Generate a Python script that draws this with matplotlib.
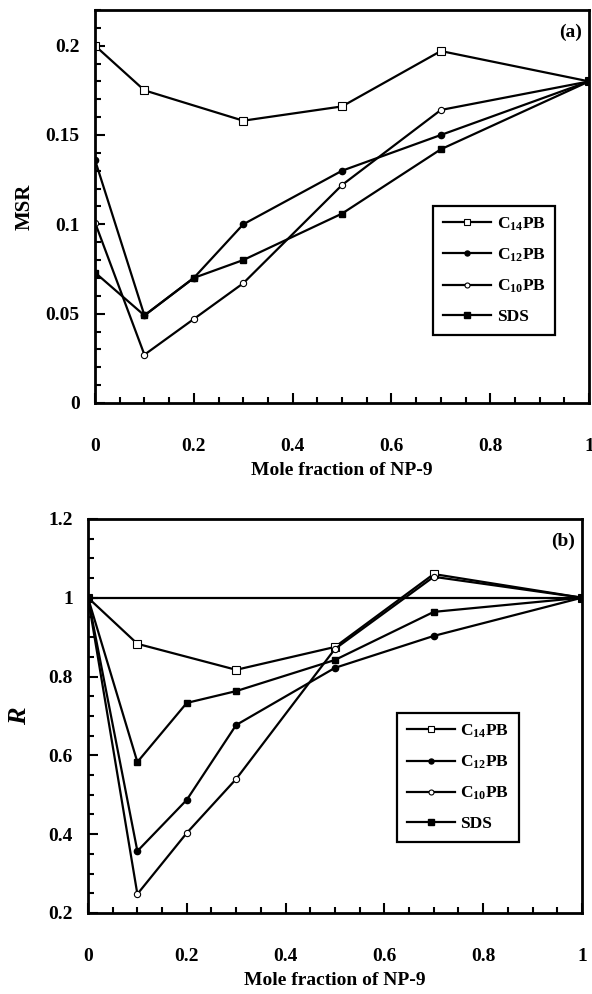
import matplotlib
matplotlib.use("Agg")
import matplotlib.pyplot as plt
from matplotlib.ticker import MultipleLocator

plt.rcParams["font.family"] = ["Liberation Serif", "DejaVu Serif"]
plt.rcParams["font.weight"] = "bold"
plt.rcParams["mathtext.fontset"] = "custom"
plt.rcParams["mathtext.rm"] = "Liberation Serif:bold"
plt.rcParams["mathtext.it"] = "Liberation Serif:bold:italic"
plt.rcParams["mathtext.bf"] = "Liberation Serif:bold"

# data
x_c14 = [0, 0.1, 0.3, 0.5, 0.7, 1]
x_all = [0, 0.1, 0.2, 0.3, 0.5, 0.7, 1]
labels = [r"C$_{14}$PB", r"C$_{12}$PB", r"C$_{10}$PB", "SDS"]

msr_c14 = [0.200, 0.175, 0.158, 0.166, 0.197, 0.180]
msr_c12 = [0.136, 0.049, 0.070, 0.100, 0.130, 0.150, 0.180]
msr_c10 = [0.101, 0.027, 0.047, 0.067, 0.122, 0.164, 0.180]
msr_sds = [0.073, 0.049, 0.070, 0.080, 0.106, 0.142, 0.180]

r_c14 = [1.0, 0.883, 0.817, 0.875, 1.060, 1.0]
r_c12 = [1.0, 0.357, 0.487, 0.677, 0.822, 0.903, 1.0]
r_c10 = [1.0, 0.248, 0.403, 0.540, 0.870, 1.053, 1.0]
r_sds = [1.0, 0.583, 0.733, 0.763, 0.842, 0.964, 1.0]

fig = plt.figure(figsize=(5.92, 9.94), dpi=100)
ax1 = fig.add_axes([0.1605, 0.5946, 0.8345, 0.3954])
ax2 = fig.add_axes([0.1486, 0.0815, 0.8344, 0.3965])

styles = [
    dict(marker="s", mfc="white", mec="black", ms=5.5, mew=0.8),
    dict(marker="o", mfc="black", mec="black", ms=4.5),
    dict(marker="o", mfc="white", mec="black", ms=4.5, mew=0.8),
    dict(marker="s", mfc="black", mec="black", ms=5),
]


def draw(ax, series, xs):
    for x, y, lab, st in zip(xs, series, labels, styles):
        ax.plot(x, y, "-", color="black", lw=1.6, label=lab, **st)


def style(ax, ymin, ymax, ymaj, ymin_step, tag, legpos):
    ax.set_xlim(0, 1)
    ax.set_ylim(ymin, ymax)
    ax.xaxis.set_major_locator(MultipleLocator(0.2))
    ax.xaxis.set_minor_locator(MultipleLocator(0.05))
    ax.yaxis.set_major_locator(MultipleLocator(ymaj))
    ax.yaxis.set_minor_locator(MultipleLocator(ymin_step))
    ax.tick_params(which="both", direction="in", top=False, right=False,
                   width=1.5, labelsize=14)
    ax.tick_params(which="major", length=7)
    ax.tick_params(which="minor", length=4)
    ax.tick_params(axis="x", pad=25)
    ax.tick_params(axis="y", pad=11)
    ax.xaxis.set_major_formatter(plt.FuncFormatter(lambda v, p: "%g" % round(v, 3)))
    ax.yaxis.set_major_formatter(plt.FuncFormatter(lambda v, p: "%g" % round(v, 3)))
    for s in ax.spines.values():
        s.set_linewidth(2)
    ax.set_xlabel("Mole fraction of NP-9", fontsize=14, fontweight="bold", labelpad=5)
    ax.text(0.985, 0.965, tag, transform=ax.transAxes, ha="right", va="top",
            fontsize=14, fontweight="bold")
    leg = ax.legend(loc="upper left", bbox_to_anchor=legpos, fancybox=False,
                    edgecolor="black", framealpha=1, fontsize=12.5,
                    handlelength=2.8, labelspacing=0.8, borderpad=0.55,
                    handletextpad=0.3, markerscale=0.8)
    leg.get_frame().set_linewidth(1.6)


draw(ax1, [msr_c14, msr_c12, msr_c10, msr_sds], [x_c14, x_all, x_all, x_all])
style(ax1, 0, 0.22, 0.05, 0.01, "(a)", (0.667, 0.524))
ax1.set_ylabel("MSR", fontsize=15, fontweight="bold", labelpad=8)

ax2.axhline(1, color="black", lw=1.6)
draw(ax2, [r_c14, r_c12, r_c10, r_sds], [x_c14, x_all, x_all, x_all])
style(ax2, 0.2, 1.2, 0.2, 0.05, "(b)", (0.608, 0.53))
ax2.set_ylabel("R", fontsize=19, fontweight="bold", fontstyle="italic", labelpad=12)

fig.savefig("out.png", dpi=100)
